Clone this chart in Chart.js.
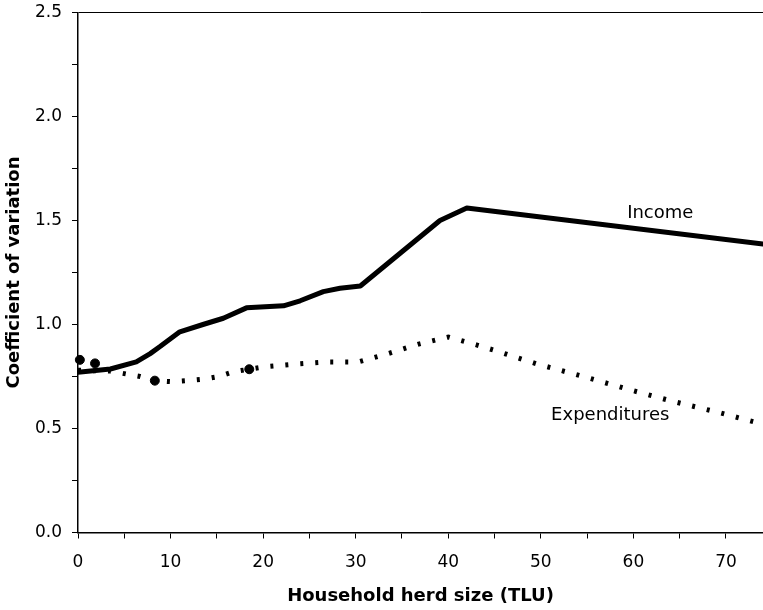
<!DOCTYPE html>
<html>
<head>
<meta charset="utf-8">
<script src="https://cdn.jsdelivr.net/npm/chart.js@4.4.0/dist/chart.umd.min.js"></script>
<style>
  body { margin: 0; background: #fff; }
  #wrap { width: 763px; height: 610px; position: relative; }
</style>
</head>
<body>
<div id="wrap"><canvas id="chart"></canvas></div>
<script>
// values (x = herd size in TLU, y = coefficient of variation)
const incomeX = [0, 3.5, 6.3, 7.8, 8.9, 11, 13.5, 15.7, 18.2, 19.7, 22.2, 24, 26.5, 28.3, 30.5, 39.1, 42, 74];
const incomeY = [0.77, 0.786, 0.82, 0.86, 0.895, 0.965, 1.0, 1.03, 1.08, 1.084, 1.09, 1.114, 1.158, 1.174, 1.185, 1.5, 1.56, 1.387];

const expendX = [0, 3.5, 6.7, 8.3, 10.1, 11.75, 13.5, 15.2, 16.8, 18.5, 20.2, 23.5, 26.9, 30.3, 33.5, 36.8, 40, 43.2, 44.9, 49.6, 54.6, 59.7, 64.3, 69.4, 74];
const expendY = [0.78, 0.776, 0.75, 0.73, 0.725, 0.73, 0.737, 0.75, 0.773, 0.785, 0.797, 0.81, 0.82, 0.82, 0.86, 0.906, 0.94, 0.9, 0.877, 0.81, 0.75, 0.685, 0.63, 0.575, 0.52];

// the heavier blobs sitting on the dotted line
const blobX = [0.2, 1.84, 8.3, 18.5];
const blobY = [0.83, 0.813, 0.73, 0.785];

const xTicks = [0, 5, 10, 15, 20, 25, 30, 35, 40, 45, 50, 55, 60, 65, 70];
const yTicks = [0, 0.25, 0.5, 0.75, 1, 1.25, 1.5, 1.75, 2, 2.25, 2.5];

const seriesLabels = [
  { text: "Income", x: 62.9, y: 1.536 },
  { text: "Expenditures", x: 57.5, y: 0.565 }
];

const toPoints = (xs, ys) => xs.map((x, i) => ({ x: x, y: ys[i] }));

const lineLabels = {
  id: "lineLabels",
  afterDatasetsDraw(chart) {
    const ctx = chart.ctx;
    const xs = chart.scales.x, ys = chart.scales.y;
    ctx.save();
    ctx.font = "18px 'DejaVu Sans'";
    ctx.fillStyle = "#000";
    ctx.textAlign = "center";
    ctx.textBaseline = "middle";
    seriesLabels.forEach(l => {
      ctx.fillText(l.text, xs.getPixelForValue(l.x), ys.getPixelForValue(l.y));
    });
    ctx.restore();
  }
};

const ctx = document.getElementById("chart").getContext("2d");
const chart = new Chart(ctx, {
  type: "line",
  data: {
    datasets: [
      {
        label: "Income",
        data: toPoints(incomeX, incomeY),
        borderColor: "#000",
        borderWidth: 5,
        pointRadius: 0,
        tension: 0,
        borderCapStyle: "round",
        borderJoinStyle: "round"
      },
      {
        label: "Expenditures",
        data: toPoints(expendX, expendY),
        borderColor: "#000",
        borderWidth: 5,
        borderDash: [3, 12],
        borderCapStyle: "butt",
        pointRadius: 0,
        tension: 0
      },
      {
        label: "blobs",
        type: "scatter",
        data: toPoints(blobX, blobY),
        backgroundColor: "#000",
        borderColor: "#000",
        pointRadius: 4.5,
        clip: false
      }
    ]
  },
  options: {
    responsive: true,
    maintainAspectRatio: false,
    animation: false,
    layout: { autoPadding: false, padding: { top: 12.5, right: 0, bottom: 0, left: 0 } },
    plugins: {
      legend: { display: false },
      tooltip: { enabled: false }
    },
    scales: {
      x: {
        type: "linear",
        min: 0,
        max: 74,
        afterBuildTicks: s => { s.ticks = xTicks.map(v => ({ value: v })); },
        afterFit: s => { s.height = 77.5; s.paddingLeft = 0; s.paddingRight = 0; },
        border: { display: true, color: "#000", width: 1.5 },
        grid: { drawOnChartArea: false, color: "#000", tickColor: "#000", tickLength: 6 },
        ticks: {
          autoSkip: false,
          maxRotation: 0,
          padding: 14,
          color: "#000",
          font: { family: "'DejaVu Sans'", size: 17 },
          callback: v => (v % 10 === 0 ? v : "")
        },
        title: {
          display: true,
          text: "Household herd size (TLU)",
          color: "#000",
          font: { family: "'DejaVu Sans'", size: 18, weight: "bold" },
          padding: { top: 0, bottom: 3 }
        }
      },
      y: {
        min: 0,
        max: 2.5,
        afterBuildTicks: s => { s.ticks = yTicks.map(v => ({ value: v })); },
        afterFit: s => { s.width = 78; s.paddingTop = 0; s.paddingBottom = 0; },
        border: { display: true, color: "#000", width: 1.5 },
        grid: {
          color: c => (c.tick && c.tick.value === 2.5 ? "#000" : "rgba(0,0,0,0)"),
          tickColor: "#000",
          tickLength: 6
        },
        ticks: {
          autoSkip: false,
          padding: 10,
          color: "#000",
          font: { family: "'DejaVu Sans'", size: 17 },
          callback: v => (Math.abs(v * 2 - Math.round(v * 2)) < 1e-6 ? v.toFixed(1) : "")
        },
        title: {
          display: true,
          text: "Coefficient of variation",
          color: "#000",
          font: { family: "'DejaVu Sans'", size: 18, weight: "bold" },
          padding: { top: 4, bottom: 0 }
        }
      }
    }
  },
  plugins: [lineLabels]
});
</script>
</body>
</html>
